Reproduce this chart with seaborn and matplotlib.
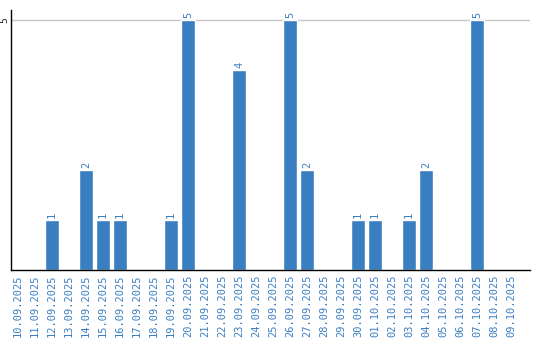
import matplotlib
matplotlib.use("Agg")
import matplotlib.pyplot as plt
import seaborn as sns
import pandas as pd

dates = ["10.09.2025", "11.09.2025", "12.09.2025", "13.09.2025", "14.09.2025",
         "15.09.2025", "16.09.2025", "17.09.2025", "18.09.2025", "19.09.2025",
         "20.09.2025", "21.09.2025", "22.09.2025", "23.09.2025", "24.09.2025",
         "25.09.2025", "26.09.2025", "27.09.2025", "28.09.2025", "29.09.2025",
         "30.09.2025", "01.10.2025", "02.10.2025", "03.10.2025", "04.10.2025",
         "05.10.2025", "06.10.2025", "07.10.2025", "08.10.2025", "09.10.2025"]
counts = [0, 0, 1, 0, 2, 1, 1, 0, 0, 1,
          5, 0, 0, 4, 0, 0, 5, 2, 0, 0,
          1, 1, 0, 1, 2, 0, 0, 5, 0, 0]
yticks = [5]

df = pd.DataFrame({"date": dates, "count": counts})

sns.set_style("white")
plt.rcParams["font.family"] = ["DejaVu Sans Mono", "DejaVu Sans"]

blue = "#3a7ec2"
fig = plt.figure(figsize=(5.4, 3.4), dpi=100)
ax = fig.add_axes([11/540, 70/340, 519/540, 260/340])

sns.barplot(data=df, x="date", y="count", color=blue, width=0.82,
            saturation=1, ax=ax, order=dates)

for i, v in enumerate(counts):
    if v > 0:
        ax.text(i, v + 0.04, str(v), rotation=90, ha="center", va="bottom",
                color=blue, fontsize=7.5)

ax.set_xlim(-0.41, 30.12)
ax.set_ylim(0, 5.2)
ax.set_yticks(yticks)
ax.set_yticklabels([str(t) for t in yticks], rotation=90, va="center", fontsize=7)
ax.yaxis.grid(True, color="#c8c8c8", linewidth=1)
ax.set_axisbelow(True)
ax.tick_params(axis="y", length=0, pad=1)
ax.tick_params(axis="x", length=0, pad=3, labelcolor=blue, labelsize=7.5)
plt.setp(ax.get_xticklabels(), rotation=90)
ax.set_xlabel("")
ax.set_ylabel("")

for s in ["top", "right"]:
    ax.spines[s].set_visible(False)
for s in ["left", "bottom"]:
    ax.spines[s].set_color("black")
    ax.spines[s].set_linewidth(1)

fig.savefig("out.png", dpi=100)
